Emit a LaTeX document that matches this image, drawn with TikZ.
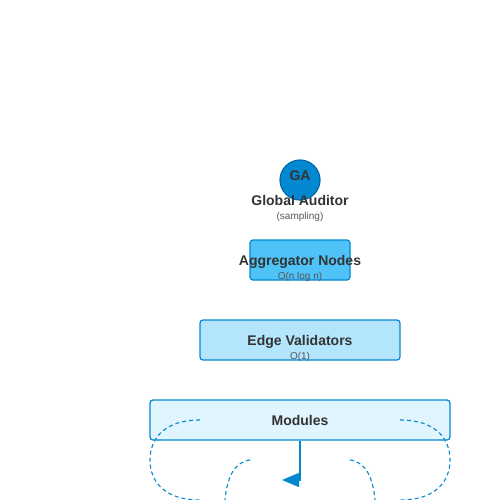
\documentclass[tikz,border=0pt]{standalone}
\usepackage{fontspec}
\setmainfont{Liberation Sans}
\usetikzlibrary{arrows.meta}
\definecolor{txt}{HTML}{333333}
\definecolor{sub}{HTML}{555555}
\definecolor{edge}{HTML}{0288D1}
\definecolor{gafill}{HTML}{0288D1}
\definecolor{gaborder}{HTML}{0266A8}
\definecolor{aggfill}{HTML}{4FC3F7}
\definecolor{evfill}{HTML}{B3E5FC}
\definecolor{modfill}{HTML}{E1F5FE}
\tikzset{
  boxstyle/.style={draw=edge, line width=1.2pt, rounded corners=3pt, inner sep=0pt},
  title/.style={font=\fontsize{14}{16}\selectfont\bfseries, text=txt, inner sep=0pt, anchor=base},
  subtitle/.style={font=\fontsize{10}{12}\selectfont, text=sub, inner sep=0pt, anchor=base},
  loopline/.style={draw=edge, line width=1.1pt, dash pattern=on 4pt off 3pt},
}
\begin{document}
\begin{tikzpicture}[x=1pt,y=-1pt]
\useasboundingbox (0,0) rectangle (500,500);
% nodes
\node[circle, draw=gaborder, fill=gafill, line width=1.2pt, minimum size=40pt, inner sep=0pt] (ga) at (300,180) {};
\node[title] (galbl) at (300,180) {GA};
\node[title] (ganame) at (300,205) {Global Auditor};
\node[subtitle] (gasub) at (300,219.5) {(sampling)};

\node[boxstyle, fill=aggfill, minimum width=100pt, minimum height=40pt] (agg) at (300,260) {};
\node[title] (agglbl) at (300,265) {Aggregator Nodes};
\node[subtitle] (aggsub) at (300,279.5) {O(n log n)};

\node[boxstyle, fill=evfill, minimum width=200pt, minimum height=40pt] (ev) at (300,340) {};
\node[title] (evlbl) at (300,345) {Edge Validators};
\node[subtitle] (evsub) at (300,359.5) {O(1)};

\node[boxstyle, fill=modfill, minimum width=300pt, minimum height=40pt] (mod) at (300,420) {};
\node[title] (modlbl) at (300,425) {Modules};

% dashed loops
\coordinate (l1a) at (200,420);
\coordinate (l1b) at (200,500);
\coordinate (r1a) at (400,420);
\coordinate (r1b) at (400,500);
\coordinate (l2a) at (250,460);
\coordinate (l2b) at (225,500);
\coordinate (r2a) at (350,460);
\coordinate (r2b) at (375,500);
\draw[loopline] (l1a) .. controls (165,420) and (150,438) .. (150,460) .. controls (150,482) and (165,500) .. (l1b);
\draw[loopline] (r1a) .. controls (435,420) and (450,438) .. (450,460) .. controls (450,482) and (435,500) .. (r1b);
\draw[loopline] (l2a) .. controls (234,462) and (227,478) .. (l2b);
\draw[loopline] (r2a) .. controls (366,462) and (373,478) .. (r2b);

% arrow
\coordinate (arrend) at (282,480);
\draw[draw=edge, line width=1.3pt, -{Triangle[length=17pt,width=14pt]}] (mod.south) |- (arrend);
\end{tikzpicture}
\end{document}
